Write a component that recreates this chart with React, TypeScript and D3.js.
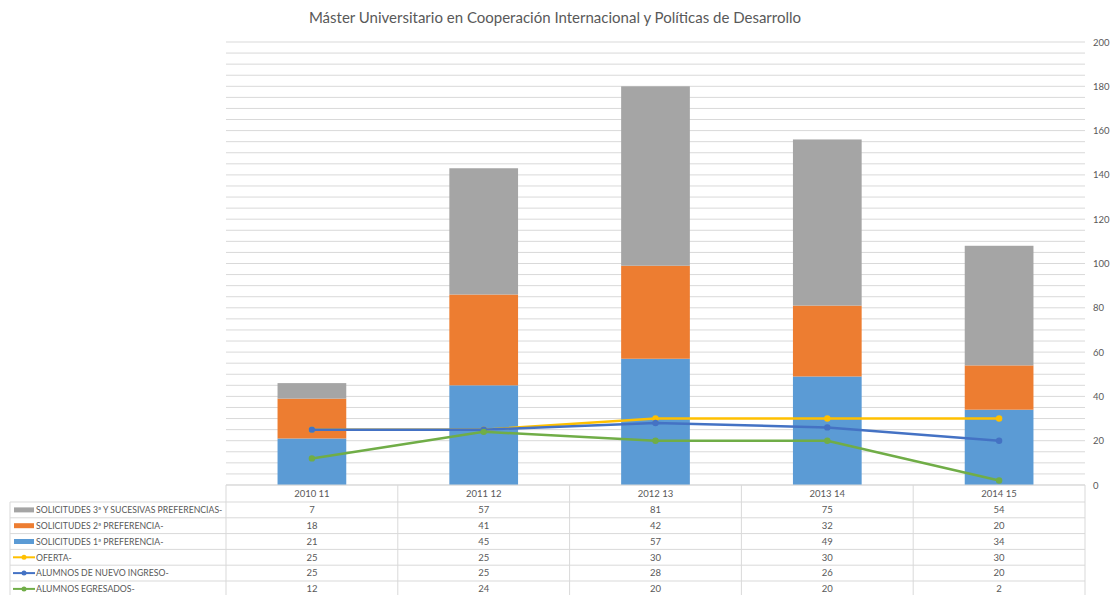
import React from 'react';
import * as d3 from 'd3';

const categories = ['2010 11', '2011 12', '2012 13', '2013 14', '2014 15'];
const sol1 = [21, 45, 57, 49, 34];
const sol2 = [18, 41, 42, 32, 20];
const sol3 = [7, 57, 81, 75, 54];
const oferta = [25, 25, 30, 30, 30];
const nuevoIngreso = [25, 25, 28, 26, 20];
const egresados = [12, 24, 20, 20, 2];
const yTicks = [0, 20, 40, 60, 80, 100, 120, 140, 160, 180, 200];

const barSeries = [
  { name: 'SOLICITUDES 1ª PREFERENCIA-', values: sol1, color: '#5B9BD5' },
  { name: 'SOLICITUDES 2ª PREFERENCIA-', values: sol2, color: '#ED7D31' },
  { name: 'SOLICITUDES 3ª Y SUCESIVAS PREFERENCIAS-', values: sol3, color: '#A5A5A5' },
];
const lineSeries = [
  { name: 'OFERTA-', values: oferta, color: '#FFC000' },
  { name: 'ALUMNOS DE NUEVO INGRESO-', values: nuevoIngreso, color: '#4472C4' },
  { name: 'ALUMNOS EGRESADOS-', values: egresados, color: '#70AD47' },
];

const W = 1112;
const H = 595;
const left = 226;
const right = 1085;
const top = 42;
const bottom = 485;
const tableLeft = 10;
const rowH = 15.8;
const font = 'Lato, "Open Sans", sans-serif';

export default function App() {
  const x = d3.scaleBand().domain(categories).range([left, right]).paddingInner(0.6).paddingOuter(0.3);
  const xc = d3.scaleBand().domain(categories).range([left, right]);
  const y = d3.scaleLinear().domain([0, 200]).range([bottom, top]);
  const minor = d3.range(0, 201, 5);

  const stack = d3.stack<number>().keys([0, 1, 2].map(String))
    .value((i, k) => barSeries[+k].values[i]);
  const stacked = stack(categories.map((_, i) => i));

  const line = d3.line<number>()
    .x((_, i) => xc(categories[i])! + xc.bandwidth() / 2)
    .y(d => y(d));

  // table rows, top to bottom
  const tableRows = [barSeries[2], barSeries[1], barSeries[0], ...lineSeries];
  const headerTop = bottom;
  const firstRow = bottom + 17;

  return (
    <svg width={W} height={H} style={{ position: 'fixed', left: 0, top: 0, display: 'block', background: '#fff' }} fontFamily={font}>
      <text x={555} y={23} textAnchor="middle" fontSize={15} fill="#595959">
        Máster Universitario en Cooperación Internacional y Políticas de Desarrollo
      </text>

      {minor.map(v => (
        <line key={v} x1={left} x2={right} y1={y(v)} y2={y(v)} stroke="#d9d9d9" strokeWidth={1} />
      ))}
      {yTicks.map(v => (
        <text key={v} x={1093} y={y(v) + 3.5} fontSize={9.5} fill="#595959">{v}</text>
      ))}

      {stacked.map((layer, li) => (
        <g key={li} fill={barSeries[li].color}>
          {layer.map((d, i) => (
            <rect key={i} x={x(categories[i])} width={x.bandwidth()} y={y(d[1])} height={y(d[0]) - y(d[1])} />
          ))}
        </g>
      ))}

      {lineSeries.map(s => (
        <g key={s.name}>
          <path d={line(s.values)!} fill="none" stroke={s.color} strokeWidth={2.5} strokeLinejoin="round" />
          {s.values.map((v, i) => (
            <circle key={i} cx={xc(categories[i])! + xc.bandwidth() / 2} cy={y(v)} r={3.2} fill={s.color} />
          ))}
        </g>
      ))}

      {/* data table */}
      <g stroke="#d9d9d9" strokeWidth={1}>
        <line x1={left} x2={right} y1={headerTop} y2={headerTop} />
        {d3.range(tableRows.length + 1).map(r => (
          <line key={r} x1={tableLeft} x2={right} y1={firstRow + r * rowH} y2={firstRow + r * rowH} />
        ))}
        <line x1={tableLeft} x2={tableLeft} y1={firstRow} y2={H} />
        {categories.map(c => (
          <line key={c} x1={xc(c)} x2={xc(c)} y1={headerTop} y2={H} />
        ))}
        <line x1={right} x2={right} y1={headerTop} y2={H} />
      </g>
      {categories.map(c => (
        <text key={c} x={xc(c)! + xc.bandwidth() / 2} y={headerTop + 12} textAnchor="middle" fontSize={9.5} fill="#595959">{c}</text>
      ))}
      {tableRows.map((s, r) => {
        const cy = firstRow + r * rowH + rowH / 2;
        const isLine = r >= 3;
        return (
          <g key={s.name}>
            {isLine ? (
              <g>
                <line x1={13} x2={35} y1={cy} y2={cy} stroke={s.color} strokeWidth={2} />
                <circle cx={24} cy={cy} r={2.5} fill={s.color} />
              </g>
            ) : (
              <rect x={14} y={cy - 2.5} width={20} height={5} fill={s.color} />
            )}
            <text x={36} y={cy + 3.3} fontSize={8.7} fill="#595959">{s.name}</text>
            {s.values.map((v, i) => (
              <text key={i} x={xc(categories[i])! + xc.bandwidth() / 2} y={cy + 3.3} textAnchor="middle" fontSize={9.5} fill="#595959">{v}</text>
            ))}
          </g>
        );
      })}
    </svg>
  );
}
